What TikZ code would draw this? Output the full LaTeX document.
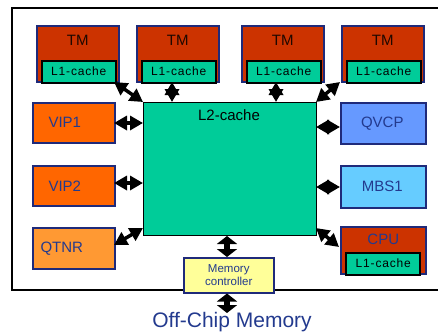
\documentclass[tikz,border=0pt]{standalone}
\usepackage{fontspec}
\setmainfont{Liberation Sans}
\usetikzlibrary{arrows.meta,calc}

\definecolor{tmred}{HTML}{CC3300}
\definecolor{cachegreen}{HTML}{00CC99}
\definecolor{vipor}{HTML}{FF6600}
\definecolor{qtnror}{HTML}{FF9933}
\definecolor{qvcpblue}{HTML}{6699FF}
\definecolor{mbsblue}{HTML}{66CCFF}
\definecolor{mcyellow}{HTML}{FFFF99}
\definecolor{navy}{HTML}{1F2A7A}
\definecolor{textblue}{HTML}{233A8E}

\newcommand{\fs}[1]{\fontsize{#1}{#1}\selectfont}

\tikzset{
  unit/.style={draw=navy, line width=1.6pt, inner sep=0pt, anchor=north west},
  tmbox/.style={unit, fill=tmred, minimum width=82, minimum height=56},
  l1box/.style={draw=black, line width=1.8pt, fill=cachegreen, inner sep=0pt,
    minimum width=74, minimum height=22, anchor=south,
    font=\fs{12}\addfontfeatures{LetterSpace=7}},
  sidebox/.style={unit, minimum width=82, minimum height=40},
  lbl/.style={font=\fs{15}, text=textblue},
  fat/.style={line width=3.5pt,
    {Triangle[width=14pt,length=13pt]}-{Triangle[width=14pt,length=13pt]}},
  memarrow/.style={line width=6pt,
    {Triangle[width=20pt,length=8pt]}-{Triangle[width=20pt,length=8pt]}},
}

\begin{document}
\begin{tikzpicture}[x=1pt,y=-1pt]
\useasboundingbox (0,0) rectangle (438,335);

% chip outline, open on the right
\draw[line width=2pt] (450,8) -- (12,8) -- (12,290) -- (450,290);

% L2 cache
\node[draw=black, line width=1.3pt, fill=cachegreen, inner sep=0pt,
      minimum width=173, minimum height=133, anchor=north west] (l2) at (143,102) {};
\node[font=\fs{15}] at (229,115) {L2-cache};

% TM processors with their L1 caches
\foreach \n/\x in {1/36, 2/136, 3/241, 4/341} {
  \node[tmbox] (tm\n) at (\x,25) {};
  \node[font=\fs{15}, text=black!85!tmred] at ($(tm\n.north)+(0,15)$) {TM};
  \node[l1box] (l1\n) at ($(tm\n.south)+(1,1)$) {L1-cache};
}

% left-hand units
\node[sidebox, fill=vipor] (vip1) at (32,102) {};
\node[lbl] at ($(vip1.center)+(-9,0)$) {VIP1};
\node[sidebox, fill=vipor] (vip2) at (32,165) {};
\node[lbl] at ($(vip2.center)+(-9,0)$) {VIP2};
\node[sidebox, fill=qtnror, minimum height=41] (qtnr) at (32,227) {};
\node[lbl] at ($(qtnr.center)+(-12,0)$) {QTNR};

% right-hand units
\node[sidebox, fill=qvcpblue, minimum width=85, minimum height=41] (qvcp) at (340,102) {};
\node[lbl] at ($(qvcp.center)+(-1,0)$) {QVCP};
\node[sidebox, fill=mbsblue, minimum width=85, minimum height=42] (mbs) at (340,165) {};
\node[lbl] at ($(mbs.center)+(-1,0)$) {MBS1};
\node[tmbox, minimum width=85, minimum height=47] (cpu) at (340,226) {};
\node[lbl] at ($(cpu.north)+(0,13)$) {CPU};
\node[l1box] (l1cpu) at ($(cpu.south)+(0,1)$) {L1-cache};

% memory controller
\node[draw=navy, line width=1.5pt, fill=mcyellow, inner sep=0pt,
      minimum width=90, minimum height=35, anchor=north west,
      font=\fs{11.5}, text=textblue, align=center] (mc) at (183,257)
      {Memory\\[2pt]controller};
\node[font=\fs{21}, text=textblue] (off) at (232,322) {Off-Chip Memory};

% connection points
\coordinate (a1) at (114,82);  \coordinate (b1) at (143,102);
\coordinate (a2) at (172,82);  \coordinate (b2) at (172,102);
\coordinate (a3) at (276,82);  \coordinate (b3) at (276,102);
\coordinate (a4) at (340,82);  \coordinate (b4) at (316,102);
\coordinate (av1) at (114,123); \coordinate (bv1) at (143,123);
\coordinate (av2) at (114,183); \coordinate (bv2) at (143,183);
\coordinate (aq) at (114,245); \coordinate (bq) at (143,228);
\coordinate (aqv) at (316,127); \coordinate (bqv) at (340,127);
\coordinate (am) at (316,187); \coordinate (bm) at (340,187);
\coordinate (ac) at (316,228); \coordinate (bc) at (339,247);
\coordinate (mtop) at (227,236);
\coordinate (offtop) at (227,313);

% links to the L2 cache
\draw[fat] (a1) -- (b1);
\draw[fat] (a2) -- (b2);
\draw[fat] (a3) -- (b3);
\draw[fat] (a4) -- (b4);
\draw[fat] (av1) -- (bv1);
\draw[fat] (av2) -- (bv2);
\draw[fat] (aq) -- (bq);
\draw[fat] (aqv) -- (bqv);
\draw[fat] (am) -- (bm);
\draw[fat] (ac) -- (bc);

% memory path
\draw[memarrow] (mtop) -- (mtop |- mc.north);
\draw[memarrow] (mtop |- mc.south) -- (offtop);
\end{tikzpicture}
\end{document}
